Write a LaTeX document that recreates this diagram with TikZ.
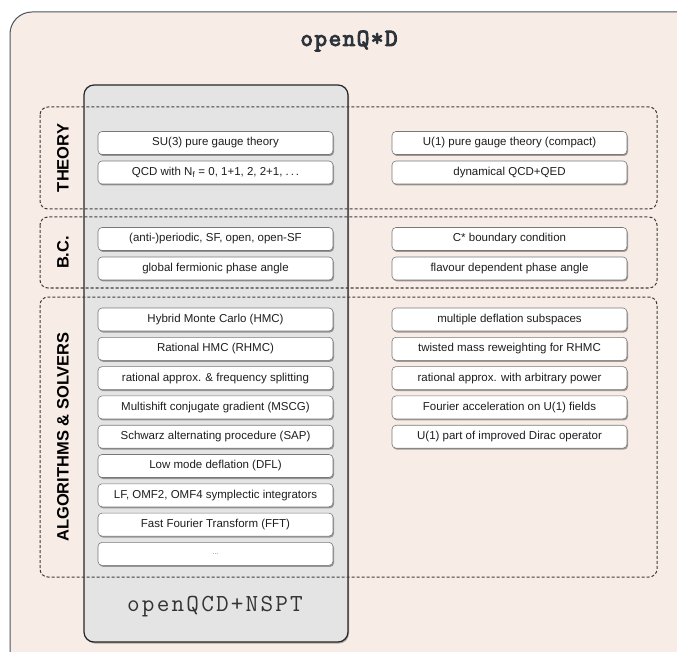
\documentclass[tikz,border=0pt]{standalone}
\usepackage{fontspec}
\setmainfont{Liberation Sans}
\newfontfamily\titlefont{Latin Modern Mono}[FakeBold=4, LetterSpace=6]
\newfontfamily\nsptfont{Latin Modern Mono}[LetterSpace=9]
\usetikzlibrary{shadows}
\definecolor{outerfill}{RGB}{248,236,231}
\definecolor{outerline}{RGB}{74,85,96}
\definecolor{colfill}{RGB}{228,228,228}
\definecolor{boxline}{RGB}{120,120,120}
\definecolor{dashline}{RGB}{60,60,60}
\definecolor{txt}{RGB}{30,30,30}
\begin{document}
\begin{tikzpicture}[x=1pt,y=-1pt,
  item/.style={draw=boxline, line width=0.6pt, fill=white, rounded corners=4pt,
    minimum width=235pt, minimum height=23pt, inner sep=0pt, text=txt,
    font=\fontsize{11.5}{13}\selectfont,
    drop shadow={shadow xshift=1pt, shadow yshift=-1.5pt, opacity=0.35, fill=black}},
  group/.style={draw=dashline, line width=1pt, dash pattern=on 3pt off 2pt, rounded corners=8pt},
  grouplabel/.style={rotate=90, font=\bfseries\fontsize{16.5}{18}\selectfont, text=black},
  ]
\clip (0,0) rectangle (677,652);
\fill[white] (0,0) rectangle (677,652);
% outer box
\draw[fill=outerfill, draw=outerline, line width=1pt, rounded corners=22pt] (10,12) rectangle (710,680);
\node[font=\titlefont\fontsize{24.5}{26}\selectfont, text=outerline!60!black] (title) at (349,41) {openQ*D};
% gray column
\draw[fill=colfill, draw=black!85, line width=1.2pt, rounded corners=10pt,
  drop shadow={shadow xshift=1pt, shadow yshift=-1.5pt, opacity=0.3, fill=black}] (84,85) rectangle (348,642);
\node[font=\nsptfont\fontsize{24.5}{27}\selectfont, text=black!80] (nspt) at (215,607) {openQCD+NSPT};
% dashed groups
\draw[group] (40,107) rectangle (657,209);
\draw[group] (40,217) rectangle (657,288);
\draw[group] (40,297) rectangle (657,577);
\node[grouplabel] (lth) at (63,158) {THEORY};
\node[grouplabel] (lbc) at (63,252.5) {B.C.};
\node[grouplabel] (lal) at (63,437) {ALGORITHMS \& SOLVERS};
% left items
\node[item] (su3) at (215.5,143) {SU(3) pure gauge theory};
\node[item] (qcd) at (215.5,172.5) {QCD with N\textsubscript{f} = 0, 1+1, 2, 2+1, .\,.\,.};
\node[item] (bc1) at (215.5,239) {(anti-)periodic, SF, open, open-SF};
\node[item] (bc2) at (215.5,268.5) {global fermionic phase angle};
\node[item] (a1) at (215.5,319.5) {Hybrid Monte Carlo (HMC)};
\node[item] (a2) at (215.5,348.8) {Rational HMC (RHMC)};
\node[item] (a3) at (215.5,378.1) {rational approx. \& frequency splitting};
\node[item] (a4) at (215.5,407.4) {Multishift conjugate gradient (MSCG)};
\node[item] (a5) at (215.5,436.7) {Schwarz alternating procedure (SAP)};
\node[item] (a6) at (215.5,466.0) {Low mode deflation (DFL)};
\node[item] (a7) at (215.5,495.3) {LF, OMF2, OMF4 symplectic integrators};
\node[item] (a8) at (215.5,524.6) {Fast Fourier Transform (FFT)};
\node[item] (a9) at (215.5,553.9) {\textcolor{black!55}{\fontsize{7}{8}\selectfont ...}};
% right items
\node[item] (u1) at (509.5,143) {U(1) pure gauge theory (compact)};
\node[item] (qed) at (509.5,172.5) {dynamical QCD+QED};
\node[item] (cs) at (509.5,239) {C* boundary condition};
\node[item] (fl) at (509.5,268.5) {flavour dependent phase angle};
\node[item] (b1) at (509.5,319.5) {multiple deflation subspaces};
\node[item] (b2) at (509.5,348.8) {twisted mass reweighting for RHMC};
\node[item] (b3) at (509.5,378.1) {rational approx. with arbitrary power};
\node[item] (b4) at (509.5,407.4) {Fourier acceleration on U(1) fields};
\node[item] (b5) at (509.5,436.7) {U(1) part of improved Dirac operator};
\end{tikzpicture}
\end{document}
